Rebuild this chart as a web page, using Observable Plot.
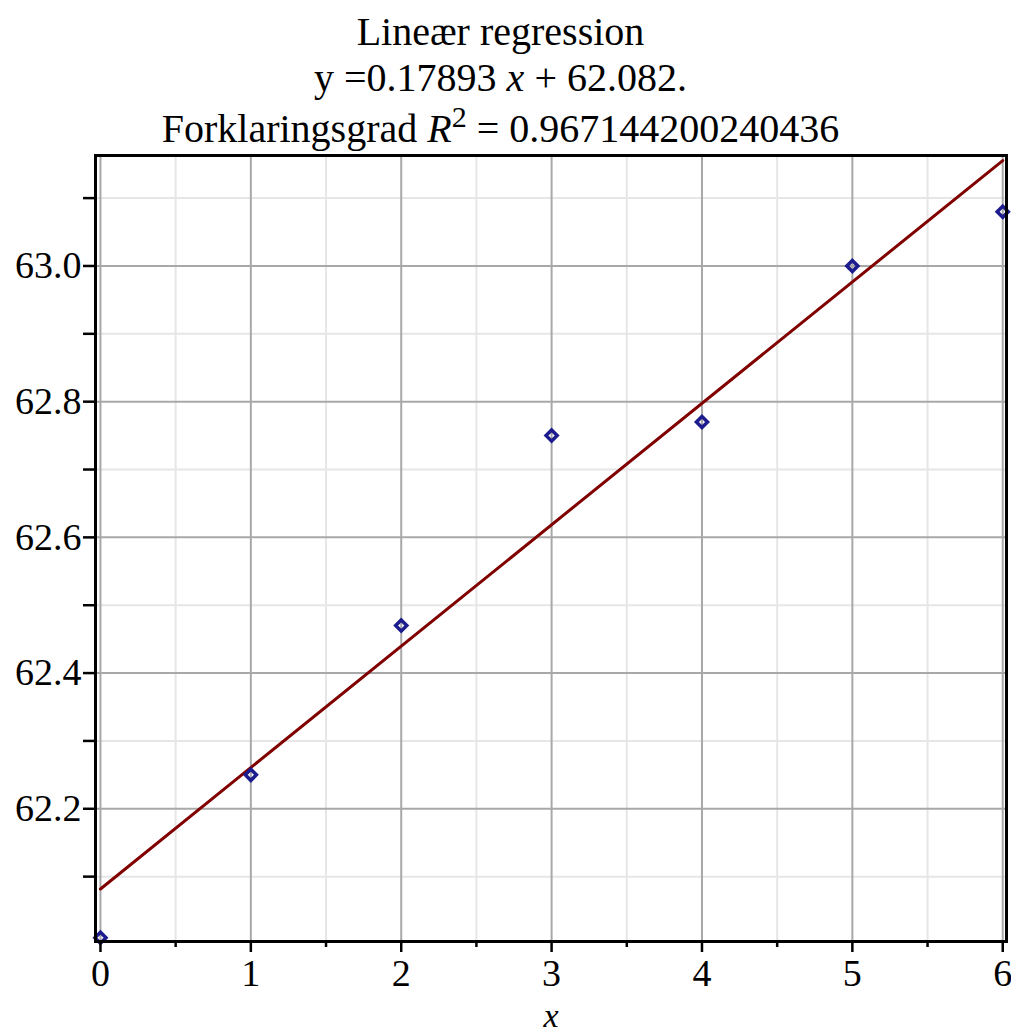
<!DOCTYPE html>
<html>
<head>
<meta charset="utf-8">
<script src="https://cdn.jsdelivr.net/npm/d3@7"></script>
<script src="https://cdn.jsdelivr.net/npm/@observablehq/plot@0.6"></script>
<style>
  html, body { margin: 0; padding: 0; background: #fff; }
  body { width: 1011px; height: 1034px; overflow: hidden; font-family: "Liberation Serif", "Times New Roman", serif; }
  #title { position: relative; width: 1011px; height: 148px; }
  #title div { position: absolute; left: 0; width: 1001px; text-align: center; font-size: 40px; line-height: 40px; white-space: nowrap; color: #000; }
  #title sup { font-size: 30px; position: relative; top: -15px; vertical-align: baseline; line-height: 0; }
  #chart svg { display: block; }
</style>
</head>
<body>
<div id="title">
  <div id="t1" style="top:12px"></div>
  <div id="t2" style="top:58px"></div>
  <div id="t3" style="top:109px"></div>
</div>
<div id="chart"></div>
<script>
// ---- data ----
const xValues = [0, 1, 2, 3, 4, 5, 6];
const yValues = [62.01, 62.25, 62.47, 62.75, 62.77, 63.00, 63.08];
const xMajorTicks = [0, 1, 2, 3, 4, 5, 6];
const xMinorTicks = [0.5, 1.5, 2.5, 3.5, 4.5, 5.5];
const yMajorTicks = [62.2, 62.4, 62.6, 62.8, 63.0];
const yMinorTicks = [62.1, 62.3, 62.5, 62.7, 62.9, 63.1];
const titleLine1 = "Lineær regression";
const slopeText = "0.17893";
const interceptText = "62.082";
const r2Text = "0.967144200240436";

document.getElementById("t1").textContent = titleLine1;
document.getElementById("t2").innerHTML = "y =" + slopeText + " <i>x</i> + " + interceptText + ".";
document.getElementById("t3").innerHTML = "Forklaringsgrad <i>R</i><sup>2</sup> = " + r2Text;

const data = xValues.map((x, i) => ({x, y: yValues[i]}));

const majorGrid = "#a8a8a8";
const minorGrid = "#e6e6e6";

const chart = Plot.plot({
  width: 1011,
  height: 886,
  marginTop: 7,
  marginBottom: 93,
  marginLeft: 95,
  marginRight: 5,
  style: {fontFamily: "Liberation Serif, Times New Roman, serif", fontSize: "38px", background: "white", color: "black"},
  x: {domain: [-0.033, 6.025]},
  y: {domain: [62.0044, 63.1628]},
  marks: [
    Plot.ruleX(xMinorTicks, {stroke: minorGrid, strokeWidth: 2}),
    Plot.ruleY(yMinorTicks, {stroke: minorGrid, strokeWidth: 2}),
    Plot.ruleX(xMajorTicks, {stroke: majorGrid, strokeWidth: 2}),
    Plot.ruleY(yMajorTicks, {stroke: majorGrid, strokeWidth: 2}),
    Plot.linearRegressionY(data, {x: "x", y: "y", stroke: "#800000", strokeWidth: 3, ci: 0}),
    Plot.dot(data, {x: "x", y: "y", symbol: "diamond2", r: 5, stroke: "#1c1c8e", strokeWidth: 3.5, fill: "none"}),
    Plot.frame({stroke: "black", strokeWidth: 3}),
    Plot.axisX({ticks: xMajorTicks, tickSize: 11, tickPadding: 7, strokeWidth: 2.5, fontSize: 38, label: null, tickFormat: d => String(d)}),
    Plot.axisX({ticks: xMinorTicks, tickSize: 6, strokeWidth: 2.5, label: null, tickFormat: () => ""}),
    Plot.axisY({ticks: yMajorTicks, tickSize: 12, tickPadding: 2, strokeWidth: 2.5, fontSize: 38, label: null, tickFormat: d3.format(".1f")}),
    Plot.axisY({ticks: yMinorTicks, tickSize: 12, strokeWidth: 2.5, label: null, tickFormat: () => ""}),
    Plot.text(["x"], {frameAnchor: "bottom", lineAnchor: "bottom", dy: 85, text: d => d, fontStyle: "italic", fontSize: 34})
  ]
});
document.getElementById("chart").appendChild(chart);
</script>
</body>
</html>
